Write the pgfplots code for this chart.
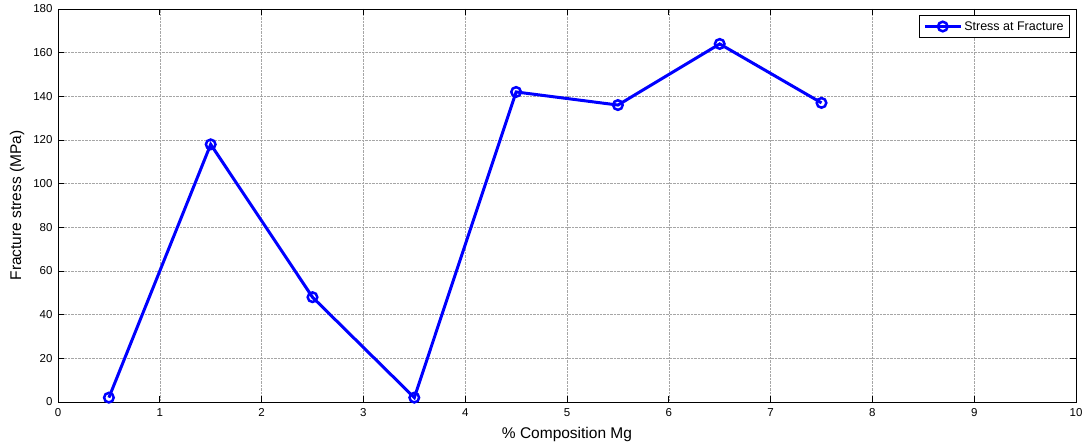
\documentclass[border=0pt]{standalone}
\usepackage{pgfplots}
\pgfplotsset{compat=1.18}
\usepackage{fontspec}
\setmainfont{Liberation Sans}
\begin{document}
\begin{tikzpicture}
\begin{axis}[
  scale only axis,
  width=1018pt, height=393pt,
  xmin=0, xmax=10, ymin=0, ymax=180,
  xtick={0,1,...,10}, ytick={0,20,...,180},
  tick align=inside,
  major tick length=6pt,
  grid=major,
  grid style={densely dotted, gray!70, line width=0.5pt},
  axis line style={line width=0.8pt},
  tick style={line width=0.8pt, black},
  /pgf/number format/assume math mode=true,
  ticklabel style={font=\fontsize{11.5}{12}\selectfont},
  yticklabel style={xshift=-2pt},
  xticklabel style={yshift=-3pt},
  xlabel={\% Composition Mg},
  ylabel={Fracture stress (MPa)},
  label style={font=\fontsize{15.5}{17}\selectfont},
  xlabel style={yshift=-4pt},
  ylabel style={yshift=2pt},
  legend style={font=\fontsize{12.5}{14}\selectfont, draw=black, line width=0.8pt, inner xsep=4pt, inner ysep=4pt, at={(1,1)}, anchor=north east, xshift=-6pt, yshift=-6pt},
  legend cell align=left,
  legend image code/.code={\draw[#1, mark repeat=2, mark phase=2] plot coordinates {(0pt,0pt) (18pt,0pt) (36pt,0pt)};},
]
\addplot[blue, line width=3pt, mark=o, mark size=4.8pt, mark options={line width=2.5pt}]
coordinates {
(0.5,2) (1.5,118) (2.5,48) (3.5,2) (4.5,142) (5.5,136) (6.5,164) (7.5,137)
};
\addlegendentry{Stress at Fracture}
\coordinate (bl) at (rel axis cs:0,0);
\coordinate (tr) at (rel axis cs:1,1);
\end{axis}
\pgfresetboundingbox
\path[use as bounding box] ([xshift=-58pt,yshift=-46pt]bl) rectangle ([xshift=10pt,yshift=9pt]tr);
\end{tikzpicture}
\end{document}
